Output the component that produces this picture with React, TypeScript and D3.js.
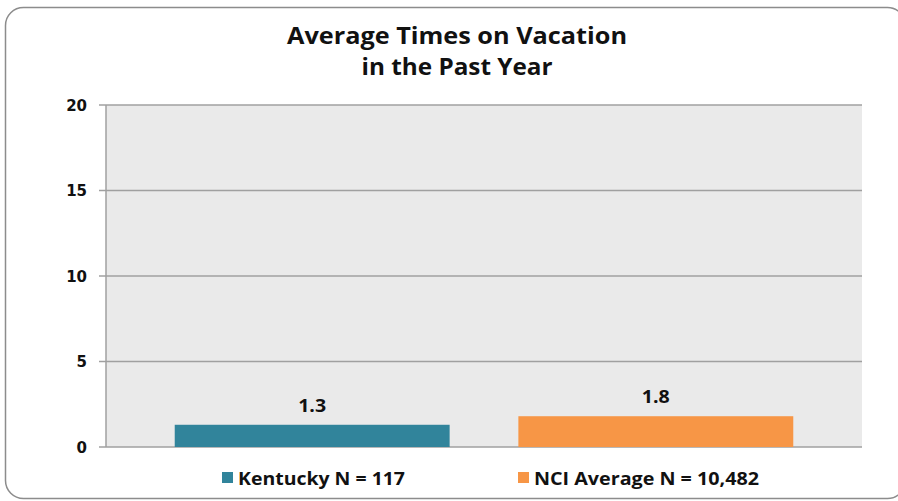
import React from "react";
import * as d3 from "d3";

const categories = ["Kentucky N = 117", "NCI Average N = 10,482"];
const values = [1.3, 1.8];
const valueLabels = ["1.3", "1.8"];
const colors = ["#31849B", "#F79646"];
const yTicks = [0, 5, 10, 15, 20];
const titleLines = ["Average Times on Vacation", "in the Past Year"];

export default function App() {
  const W = 898, H = 501;
  const left = 106, right = 862, top = 105, bottom = 447;
  const x = d3.scaleBand<string>().domain(categories).range([left, right]).paddingInner(0.2).paddingOuter(0.2);
  const y = d3.scaleLinear().domain([0, 20]).range([bottom, top]);
  const font = "'Open Sans', sans-serif";
  const legendX = [222, 518];
  const titleLens = [340, 191];
  const legendLens = [167, 225];
  return (
    <svg width={W} height={H} style={{ position: "absolute", left: 0, top: 0 }}>
      <rect x={0} y={0} width={W} height={H} fill="#fff" />
      <rect x={5.5} y={7.5} width={900} height={491} rx={18} fill="#fff" stroke="#8c8c8c" strokeWidth={1.5} />
      {titleLines.map((t, i) => (
        <text key={t} x={457} y={44 + i * 31} textAnchor="middle" fontFamily={font} fontWeight="bold" fontSize={23}
          textLength={titleLens[i]} lengthAdjust="spacingAndGlyphs" fill="#111">{t}</text>
      ))}
      <rect x={left} y={top} width={right - left} height={bottom - top} fill="#EAEAEA" />
      {yTicks.map((t) => (
        <g key={t}>
          <line x1={left - 7} x2={right} y1={y(t)} y2={y(t)} stroke="#A0A0A0" strokeWidth={1.5} />
          <text x={87} y={y(t) + 5.5} textAnchor="end" fontFamily="'DejaVu Sans', sans-serif" fontWeight="bold" fontSize={15} fill="#111">{t}</text>
        </g>
      ))}
      <line x1={left} x2={left} y1={top} y2={bottom} stroke="#A0A0A0" strokeWidth={1.5} />
      {categories.map((c, i) => (
        <g key={c}>
          <rect x={x(c)} y={y(values[i])} width={x.bandwidth()} height={bottom - y(values[i])} fill={colors[i]} />
          <text x={(x(c) as number) + x.bandwidth() / 2} y={y(values[i]) - 13} textAnchor="middle" fontFamily={font} fontWeight="bold" fontSize={17}
            textLength={28} lengthAdjust="spacingAndGlyphs" fill="#111">{valueLabels[i]}</text>
        </g>
      ))}
      {categories.map((c, i) => (
        <g key={"l" + c}>
          <rect x={legendX[i]} y={472} width={11} height={11} fill={colors[i]} />
          <text x={legendX[i] + 16} y={485} fontFamily={font} fontWeight="bold" fontSize={17}
            textLength={legendLens[i]} lengthAdjust="spacingAndGlyphs" fill="#111">{c}</text>
        </g>
      ))}
    </svg>
  );
}
